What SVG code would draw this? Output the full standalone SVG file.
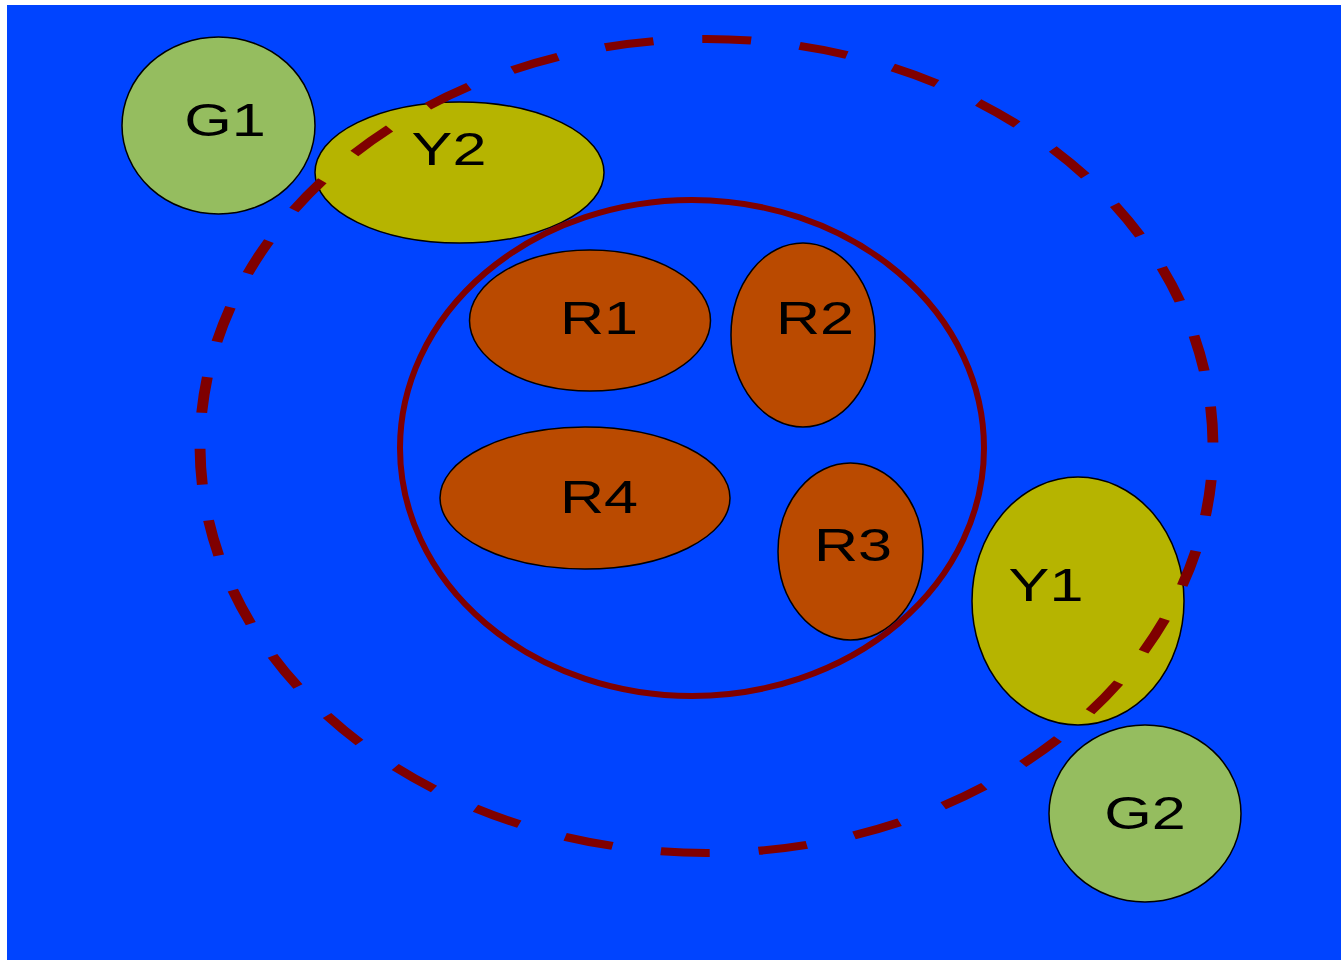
<svg xmlns="http://www.w3.org/2000/svg" width="1341" height="960" viewBox="0 0 1341 960">
<style>
.node{stroke:#000;stroke-width:1.5}
.g{fill:#95BD5F}
.y{fill:#B6B400}
.r{fill:#BA4A00}
.lbl{font-family:"Liberation Sans",Arial,sans-serif;font-size:46px;fill:#000;text-anchor:middle}
.ring{fill:none;stroke:#7F0000}
</style>
<rect x="0" y="0" width="1341" height="960" fill="#fff"/>
<rect x="7" y="5" width="1334" height="955" fill="#0044FF"/>
<g id="G1"><ellipse class="node g" cx="218.5" cy="125.5" rx="96.5" ry="88.5"/><text class="lbl" transform="translate(225,136) scale(1.33,1)">G1</text></g>
<g id="Y2"><ellipse class="node y" cx="459.5" cy="172.5" rx="144.5" ry="70.5"/><text class="lbl" transform="translate(449,165) scale(1.33,1)">Y2</text></g>
<g id="R1"><ellipse class="node r" cx="590" cy="320.5" rx="120.5" ry="70.5"/><text class="lbl" transform="translate(599,334) scale(1.33,1)">R1</text></g>
<g id="R2"><ellipse class="node r" cx="803" cy="335" rx="72" ry="92"/><text class="lbl" transform="translate(815,334) scale(1.33,1)">R2</text></g>
<g id="R4"><ellipse class="node r" cx="585" cy="498" rx="145" ry="71"/><text class="lbl" transform="translate(599,513) scale(1.33,1)">R4</text></g>
<g id="R3"><ellipse class="node r" cx="850.5" cy="551.5" rx="72.5" ry="88.5"/><text class="lbl" transform="translate(853,561) scale(1.33,1)">R3</text></g>
<g id="Y1"><ellipse class="node y" cx="1078" cy="601" rx="106" ry="124"/><text class="lbl" transform="translate(1046,601) scale(1.33,1)">Y1</text></g>
<g id="G2"><ellipse class="node g" cx="1145" cy="813.5" rx="96" ry="88.5"/><text class="lbl" transform="translate(1145,829) scale(1.33,1)">G2</text></g>
<g id="connectors">
<ellipse id="inner-ring" class="ring" cx="692" cy="448" rx="292" ry="248" stroke-width="6"/>
<g id="outer-ring" transform="translate(706.5,446) scale(1.36,1)"><ellipse class="ring" cx="0" cy="0" rx="372.4" ry="407" stroke-width="8" stroke-dasharray="36 36" stroke-dashoffset="-34"/></g>
</g>
</svg>
